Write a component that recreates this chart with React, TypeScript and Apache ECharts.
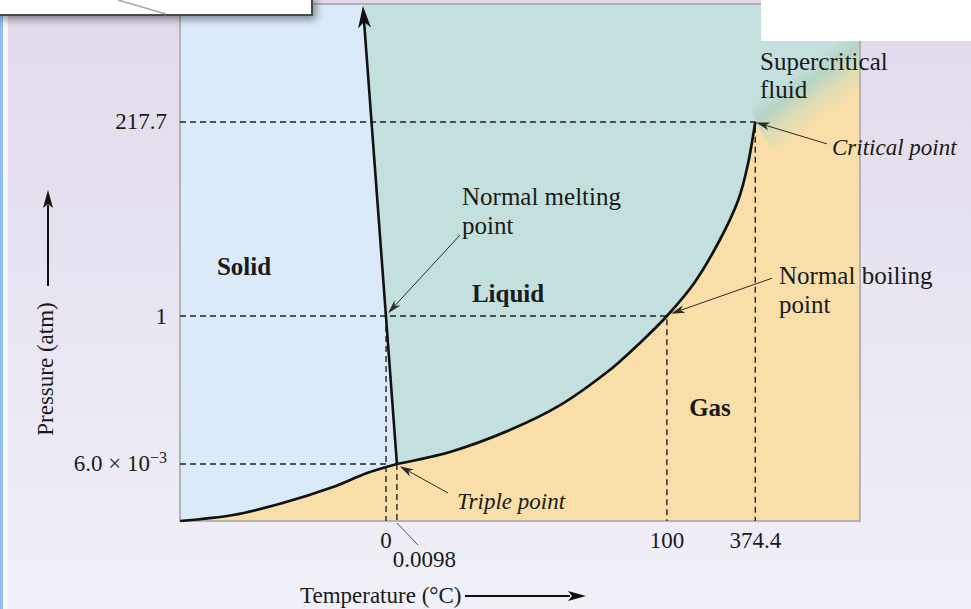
import React, { useEffect, useRef } from "react";
import * as echarts from "echarts";

const FONT = "'Liberation Serif', 'Times New Roman', serif";
const INK = "#1a1a1a";

// Schematic diagram units (0–100 on each axis; a phase diagram is not to scale)
const tempTickPositions = [30.3, 71.6, 84.6];
const tempTickLabels = ["0", "100", "374.4"];
const tripleTempPosition = 31.9;
const tripleTempLabel = "0.0098";
const pressureTickPositions = [11.03, 39.65, 77.18];
const pressureTickLabels = ["6.0 × 10{sup|−3}", "1", "217.7"];

const triplePoint = [31.9, 11.03];
const normalMeltingPoint = [30.3, 39.65];
const normalBoilingPoint = [71.6, 39.65];
const criticalPoint = [84.6, 77.18];

const sublimationCurve = [
  [0, 0], [7.8, 1.16], [15.1, 3.48], [22.5, 6.58], [27.5, 9.28], [31.9, 11.03],
];
const vaporizationCurve = [
  [31.9, 11.03], [39.7, 13.35], [48.5, 17.6], [55.9, 22.4], [63.2, 29.2],
  [67.6, 34.4], [71.6, 39.65], [75.7, 46.2], [79.4, 54.4], [82.1, 62.1],
  [83.5, 68.9], [84.6, 77.18],
];
const meltingCurve = [[31.9, 11.03], [26.9, 99.6]];

const regionNames = ["Solid", "Liquid", "Gas"];
const calloutTexts = ["Normal melting", "point", "Normal boiling", "point", "Supercritical", "fluid"];
const pointNames = ["Critical point", "Triple point"];

const SOLID = "#daeaf8";
const LIQUID = "#c4e0de";
const GAS = "#f8dfa9";

function arrow(p0: number[], p1: number[], o: any) {
  const dx = p1[0] - p0[0];
  const dy = p1[1] - p0[1];
  const len = Math.hypot(dx, dy) || 1;
  const ux = dx / len, uy = dy / len;
  const nx = -uy, ny = ux;
  const base = [p1[0] - ux * o.headLen, p1[1] - uy * o.headLen];
  const notch = [p1[0] - ux * o.notch, p1[1] - uy * o.notch];
  const hw = o.headWidth / 2;
  return [
    {
      type: "line",
      shape: { x1: p0[0], y1: p0[1], x2: notch[0], y2: notch[1] },
      style: { stroke: o.color, lineWidth: o.lineWidth },
    },
    {
      type: "polygon",
      shape: {
        points: [
          [p1[0], p1[1]],
          [base[0] + nx * hw, base[1] + ny * hw],
          notch,
          [base[0] - nx * hw, base[1] - ny * hw],
        ],
      },
      style: { fill: o.color },
    },
  ];
}

function nearestLabel(v: number, positions: number[], labels: string[]) {
  let best = 0;
  positions.forEach((p, i) => {
    if (Math.abs(p - v) < Math.abs(positions[best] - v)) best = i;
  });
  return labels[best];
}

export default function App() {
  const ref = useRef<HTMLDivElement>(null);

  useEffect(() => {
    const chart = echarts.init(ref.current!, null, { renderer: "svg" });

    const meltTopX =
      meltingCurve[0][0] +
      ((100 - meltingCurve[0][1]) * (meltingCurve[1][0] - meltingCurve[0][0])) /
        (meltingCurve[1][1] - meltingCurve[0][1]);

    const liquidPoly = [
      triplePoint,
      [meltTopX, 100],
      [100, 100],
      [100, criticalPoint[1]],
      criticalPoint,
      ...vaporizationCurve.slice(1, -1).reverse(),
    ];
    const gasPoly = [
      [0, 0],
      ...sublimationCurve.slice(1),
      ...vaporizationCurve.slice(1),
      [100, criticalPoint[1]],
      [100, 0],
    ];
    const superPoly = [criticalPoint, [81, 100], [100, 100], [100, 55], [92, 60]];

    const guides = [
      [[0, criticalPoint[1]], [criticalPoint[0], criticalPoint[1]], [criticalPoint[0], 0]],
      [[0, normalBoilingPoint[1]], [normalBoilingPoint[0], normalBoilingPoint[1]], [normalBoilingPoint[0], 0]],
      [[0, triplePoint[1]], [normalMeltingPoint[0], triplePoint[1]]],
      [[normalMeltingPoint[0], normalMeltingPoint[1]], [normalMeltingPoint[0], 0]],
      [[tripleTempPosition, triplePoint[1]], [tripleTempPosition, 0]],
    ];

    const baseText = { fontFamily: FONT, fontSize: 23, fill: INK };

    const option: any = {
      animation: false,
      backgroundColor: "transparent",
      grid: { left: 180, top: 4, width: 680, height: 517, containLabel: false },
      xAxis: {
        type: "value",
        min: 0,
        max: 100,
        axisLine: { show: false },
        axisTick: { show: false },
        splitLine: { show: false },
        axisLabel: {
          customValues: tempTickPositions,
          formatter: (v: number) => nearestLabel(v, tempTickPositions, tempTickLabels),
          margin: 8,
          fontFamily: FONT,
          fontSize: 23,
          color: INK,
        },
      },
      yAxis: {
        type: "value",
        min: 0,
        max: 100,
        axisLine: { show: false },
        axisTick: { show: false },
        splitLine: { show: false },
        axisLabel: {
          customValues: pressureTickPositions,
          formatter: (v: number) => nearestLabel(v, pressureTickPositions, pressureTickLabels),
          margin: 13,
          fontFamily: FONT,
          fontSize: 23,
          color: INK,
          rich: {
            sup: { fontFamily: FONT, fontSize: 16, color: INK, padding: [0, 0, 12, 0] },
          },
        },
      },
      series: [
        {
          type: "custom",
          name: "regions",
          z: 1,
          silent: true,
          clip: false,
          data: [[0, 0]],
          renderItem: (_p: any, api: any) => {
            const c = (p: number[]) => api.coord(p);
            const cp = c(criticalPoint);
            const n = [0.59, 0.81];
            const grad = new echarts.graphic.LinearGradient(
              cp[0] - n[0] * 18,
              cp[1] - n[1] * 18,
              cp[0] + n[0] * 38,
              cp[1] + n[1] * 38,
              [
                { offset: 0, color: LIQUID },
                { offset: 0.3, color: "#b6d4c6" },
                { offset: 0.62, color: "#dcdcb4" },
                { offset: 1, color: GAS },
              ],
              true
            );
            const tl = c([0, 100]);
            const br = c([100, 0]);
            return {
              type: "group",
              children: [
                {
                  type: "rect",
                  shape: { x: tl[0], y: tl[1], width: br[0] - tl[0], height: br[1] - tl[1] },
                  style: { fill: SOLID },
                },
                { type: "polygon", shape: { points: liquidPoly.map(c) }, style: { fill: LIQUID } },
                { type: "polygon", shape: { points: gasPoly.map(c) }, style: { fill: GAS } },
                { type: "polygon", shape: { points: superPoly.map(c) }, style: { fill: grad } },
                {
                  type: "rect",
                  shape: { x: tl[0], y: tl[1], width: br[0] - tl[0], height: br[1] - tl[1] },
                  style: { fill: "none", stroke: "#a2a2a6", lineWidth: 1.5 },
                },
              ],
            };
          },
        },
        ...guides.map((g) => ({
          type: "line",
          data: g,
          symbol: "none",
          silent: true,
          z: 2,
          lineStyle: { type: [6, 4], color: "#222", width: 1.4 },
        })),
        {
          type: "line",
          data: sublimationCurve,
          symbol: "none",
          smooth: 0.3,
          silent: true,
          z: 3,
          lineStyle: { color: "#111", width: 2.7 },
        },
        {
          type: "line",
          data: vaporizationCurve,
          symbol: "none",
          smooth: 0.3,
          silent: true,
          z: 3,
          lineStyle: { color: "#111", width: 2.7 },
        },
        {
          type: "custom",
          name: "annotations",
          z: 4,
          silent: true,
          clip: false,
          data: [[0, 0]],
          renderItem: (_p: any, api: any) => {
            const c = (p: number[]) => api.coord(p);
            const thin = { headLen: 14, headWidth: 8, notch: 10, lineWidth: 1, color: "#2b2b2b" };
            const children: any[] = [
              ...arrow(c(meltingCurve[0]), c(meltingCurve[1]), {
                headLen: 22, headWidth: 13, notch: 16, lineWidth: 2.6, color: "#111",
              }),
              ...arrow(c([41.18, 55.32]), c([30.59, 40.2]), thin),
              ...arrow(c([87.06, 46.96]), c([72.2, 40.1]), thin),
              ...arrow(c([95.15, 72.94]), c([84.7, 77.1]), thin),
              ...arrow(c([39.41, 5.42]), c([32.3, 10.6]), thin),
            ];
            const l0 = c([tripleTempPosition, -0.39]);
            const l1 = c([35.0, -4.64]);
            children.push({
              type: "line",
              shape: { x1: l0[0], y1: l0[1], x2: l1[0], y2: l1[1] },
              style: { stroke: "#555", lineWidth: 1 },
            });
            const tl = c([31.3, -7.54]);
            children.push({
              type: "text",
              x: tl[0],
              y: tl[1],
              style: { ...baseText, text: tripleTempLabel, align: "left", verticalAlign: "middle" },
            });
            const regionAt = [[9.41, 49.32], [48.24, 44.1], [77.94, 22.05]];
            regionNames.forEach((t, i) => {
              const p = c(regionAt[i]);
              children.push({
                type: "text",
                x: p[0],
                y: p[1],
                style: { ...baseText, fontSize: 25, fontWeight: "bold", text: t, align: "center", verticalAlign: "middle" },
              });
            });
            const calloutAt = [
              [41.47, 62.86], [41.47, 57.25], [88.09, 47.39], [88.09, 41.78], [85.29, 88.97], [85.29, 83.37],
            ];
            calloutTexts.forEach((t, i) => {
              const p = c(calloutAt[i]);
              children.push({
                type: "text",
                x: p[0],
                y: p[1],
                style: { ...baseText, fontSize: 25, text: t, align: "left", verticalAlign: "middle" },
              });
            });
            const pointAt = [[95.88, 72.15], [40.74, 3.68]];
            pointNames.forEach((t, i) => {
              const p = c(pointAt[i]);
              children.push({
                type: "text",
                x: p[0],
                y: p[1],
                style: { ...baseText, fontStyle: "italic", text: t, align: "left", verticalAlign: "middle" },
              });
            });
            return { type: "group", children };
          },
        },
      ],
      graphic: [
        { type: "rect", z: 100, shape: { x: 0, y: 0, width: 3, height: 609 }, style: { fill: "#8fbfea" } },
        { type: "rect", z: 100, shape: { x: 3, y: 0, width: 5, height: 609 }, style: { fill: "#f7f7fc" } },
        { type: "rect", z: 100, shape: { x: 761, y: 0, width: 210, height: 41 }, style: { fill: "#ffffff" } },
        {
          type: "rect",
          z: 101,
          shape: { x: -3, y: -3, width: 315, height: 18 },
          style: {
            fill: "#ffffff",
            stroke: "#4a4a4a",
            lineWidth: 2,
            shadowBlur: 8,
            shadowColor: "rgba(0,0,0,0.45)",
            shadowOffsetX: 3,
            shadowOffsetY: 3,
          },
        },
        { type: "line", z: 102, shape: { x1: 118, y1: 0, x2: 166, y2: 14 }, style: { stroke: "#a8a8a8", lineWidth: 1.5 } },
        {
          type: "text",
          z: 50,
          x: 300,
          y: 595,
          style: { ...baseText, text: "Temperature (°C)", align: "left", verticalAlign: "middle" },
        },
        {
          type: "text",
          z: 50,
          x: 45,
          y: 369,
          rotation: Math.PI / 2,
          style: { ...baseText, text: "Pressure (atm)", align: "center", verticalAlign: "middle" },
        },
        { type: "line", z: 50, shape: { x1: 465, y1: 596, x2: 570, y2: 596 }, style: { stroke: "#111", lineWidth: 2 } },
        {
          type: "polygon",
          z: 50,
          shape: { points: [[586, 596], [568, 591], [572, 596], [568, 601]] },
          style: { fill: "#111" },
        },
        { type: "line", z: 50, shape: { x1: 48, y1: 286, x2: 48, y2: 205 }, style: { stroke: "#111", lineWidth: 2 } },
        {
          type: "polygon",
          z: 50,
          shape: { points: [[48, 190], [43, 208], [48, 204], [53, 208]] },
          style: { fill: "#111" },
        },
      ],
    };

    chart.setOption(option);
    return () => chart.dispose();
  }, []);

  return (
    <div
      ref={ref}
      style={{
        position: "fixed",
        left: 0,
        top: 0,
        width: 971,
        height: 609,
        background: "linear-gradient(#e1d9ea, #f0f0f8)",
      }}
    />
  );
}
